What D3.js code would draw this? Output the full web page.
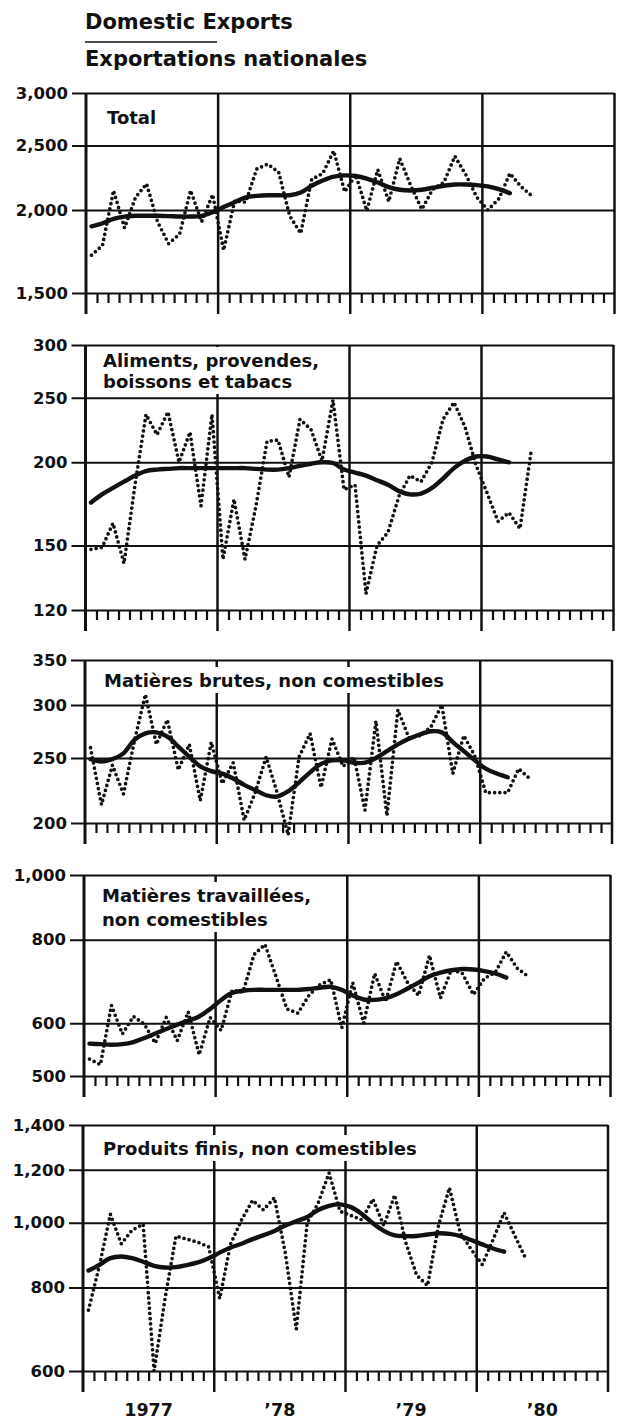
<!DOCTYPE html>
<html>
<head>
<meta charset="utf-8">
<script src="https://cdnjs.cloudflare.com/ajax/libs/d3/7.8.5/d3.min.js"></script>
<style>
    body { margin: 0; background: #fff; }
    svg text { font-family: "DejaVu Sans", sans-serif; font-weight: bold; fill: #111; }
</style>
</head>
<body>
<div id="chart-area"></div>
<script>
// Domestic Exports / Exportations nationales, monthly 1977-1980 (log scales)

const YEARS = ["1977", "’78", "’79", "’80"];
const MONTHS = ["J", "F", "M", "A", "M", "J", "J", "A", "S", "O", "N", "D"];

const TOTAL = [1710, 1770, 2140, 1880, 2090, 2190, 1920, 1780, 1840, 2140, 1920, 2110,
    1740, 2065, 2055, 2305, 2345, 2280, 1960, 1845, 2225, 2270, 2455, 2130,
    2260, 1995, 2300, 2060, 2390, 2175, 2005, 2150, 2200, 2410, 2260, 2090,
    2000, 2080, 2270, 2170, 2100];
const TOTAL_TREND = [1890, 1910, 1940, 1955, 1960, 1960, 1960, 1958, 1955, 1955, 1960, 1985,
    2020, 2055, 2090, 2100, 2105, 2105, 2105, 2125, 2175, 2215, 2245, 2255,
    2250, 2230, 2200, 2165, 2145, 2140, 2145, 2160, 2175, 2185, 2185, 2180,
    2170, 2150, 2120];
const TOTAL_TICKS = [1500, 2000, 2500, 3000];

const FOOD = [148, 149, 162, 141, 185, 236, 220, 238, 200, 222, 172, 236,
    143, 176, 143, 172, 215, 216, 190, 232, 224, 201, 248, 182,
    185, 127, 150, 157, 178, 191, 187, 200, 232, 246, 226, 198,
    180, 163, 168, 159, 207];
const FOOD_TREND = [174, 179, 183, 187, 191, 194, 195, 195.5, 196, 196, 196, 196,
    196, 196, 196, 195.5, 195, 195, 196, 197.5, 199, 200, 199.5, 195,
    193, 191, 188, 185, 181, 179, 179.5, 183, 189, 196, 201, 204,
    204, 202, 200];
const FOOD_TICKS = [120, 150, 200, 250, 300];

const CRUDE = [259, 213, 244, 221, 265, 311, 262, 285, 240, 262, 216, 264,
    229, 246, 202, 222, 251, 222, 192, 251, 272, 226, 267, 243,
    251, 209, 284, 205, 295, 268, 270, 278, 300, 237, 270, 252,
    222, 222, 222, 241, 233];
const CRUDE_TREND = [249, 247, 249, 254, 266, 272, 273, 269, 260, 251, 243, 239,
    237, 233, 228, 224, 220, 219, 223, 230, 238, 245, 248, 248,
    246, 246, 250, 256, 262, 267, 271, 274, 273, 264, 256, 248,
    241, 237, 234];
const CRUDE_TICKS = [200, 250, 300, 350];

const FABRICATED = [530, 520, 638, 578, 614, 598, 560, 612, 565, 624, 538, 612,
    585, 672, 668, 760, 787, 705, 630, 621, 660, 685, 697, 590,
    690, 600, 712, 646, 742, 690, 660, 758, 654, 722, 712, 662,
    700, 715, 767, 725, 705];
const FABRICATED_TREND = [559, 558, 557, 558, 562, 570, 579, 588, 597, 605, 614, 630,
    650, 666, 671, 673, 673, 673, 673, 673, 675, 678, 680, 673,
    660, 651, 650, 654, 663, 676, 690, 705, 714, 720, 723, 722,
    718, 712, 702];
const FABRICATED_TICKS = [500, 600, 800, 1000];

const END_PRODUCTS = [740, 862, 1030, 930, 975, 995, 600, 770, 955, 945, 935, 920,
    770, 930, 1010, 1080, 1045, 1090, 900, 693, 1000, 1070, 1187, 1040,
    1025, 1010, 1085, 990, 1100, 935, 835, 805, 990, 1128, 965, 912,
    866, 944, 1035, 955, 882];
const END_PRODUCTS_TREND = [848, 865, 885, 890, 885, 874, 862, 857, 858, 864, 872, 885,
    902, 918, 930, 945, 958, 972, 990, 1005, 1020, 1045, 1060, 1065,
    1055, 1030, 998, 972, 957, 955, 955, 960, 964, 962, 955, 942,
    928, 915, 905];
const END_PRODUCTS_TICKS = [600, 800, 1000, 1200, 1400];

// month categories, 4 years x 12
const CATEGORIES = YEARS.flatMap(yr => MONTHS.map(m => `${m} ${yr}`));

const PANELS = [
    { label: ["Total"], values: TOTAL, trend: TOTAL_TREND, ticks: TOTAL_TICKS },
    { label: ["Aliments, provendes,", "boissons et tabacs"], values: FOOD, trend: FOOD_TREND, ticks: FOOD_TICKS },
    { label: ["Matières brutes, non comestibles"], values: CRUDE, trend: CRUDE_TREND, ticks: CRUDE_TICKS },
    { label: ["Matières travaillées,", "non comestibles"], values: FABRICATED, trend: FABRICATED_TREND, ticks: FABRICATED_TICKS },
    { label: ["Produits finis, non comestibles"], values: END_PRODUCTS, trend: END_PRODUCTS_TREND, ticks: END_PRODUCTS_TICKS }
];

// page layout of each panel (pixels)
const LAYOUT = [
    { top: 93, bottom: 293, left: 86, right: 614.5, labelX: 107, labelY: [124] },
    { top: 345, bottom: 610, left: 85.5, right: 613.5, labelX: 103, labelY: [367, 388] },
    { top: 660, bottom: 823, left: 85, right: 612, labelX: 104, labelY: [687] },
    { top: 875, bottom: 1076, left: 84, right: 610.5, labelX: 102, labelY: [902, 926] },
    { top: 1125, bottom: 1371, left: 83, right: 608, labelX: 103, labelY: [1155] }
];

const INK = "#111";

const svg = d3.select("#chart-area").append("svg")
    .attr("width", 622)
    .attr("height", 1421);

svg.append("text")
    .attr("x", 85)
    .attr("y", 29)
    .attr("font-size", 21)
    .text("Domestic Exports");

svg.append("line")
    .attr("x1", 85).attr("x2", 217)
    .attr("y1", 42).attr("y2", 42)
    .attr("stroke", INK)
    .attr("stroke-width", 1.5);

svg.append("text")
    .attr("x", 85)
    .attr("y", 66)
    .attr("font-size", 21)
    .text("Exportations nationales");

PANELS.forEach((p, n) => {
    const L = LAYOUT[n];
    const g = svg.append("g");

    const x = d3.scaleLinear()
        .domain([0, CATEGORIES.length])
        .range([L.left, L.right]);

    const y = d3.scaleLog()
        .domain([p.ticks[0], p.ticks[p.ticks.length - 1]])
        .range([L.bottom, L.top]);

    // horizontal grid + value labels
    const yAxisCall = d3.axisLeft(y)
        .tickValues(p.ticks)
        .tickFormat(d3.format(","))
        .tickSize(-(L.right - L.left))
        .tickPadding(18);

    g.append("g")
        .attr("class", "y axis")
        .attr("transform", `translate(${L.left}, 0)`)
        .call(yAxisCall)
        .attr("font-size", 16.5)
        .call(a => a.select(".domain").remove())
        .call(a => a.selectAll(".tick line")
            .attr("x1", -14)
            .attr("stroke", INK)
            .attr("stroke-width", 2));

    // monthly ticks under the panel
    const xAxisCall = d3.axisBottom(x)
        .tickValues(d3.range(1, CATEGORIES.length).filter(m => m % 12 !== 0))
        .tickSize(10)
        .tickFormat("");

    g.append("g")
        .attr("class", "x axis")
        .attr("transform", `translate(0, ${L.bottom})`)
        .call(xAxisCall)
        .call(a => a.select(".domain").remove())
        .call(a => a.selectAll(".tick line")
            .attr("stroke", INK)
            .attr("stroke-width", 2.2));

    // year separators and frame sides
    g.selectAll(".year-line")
        .data(d3.range(0, YEARS.length + 1))
        .enter().append("line")
        .attr("class", "year-line")
        .attr("x1", d => x(d * 12))
        .attr("x2", d => x(d * 12))
        .attr("y1", L.top)
        .attr("y2", L.bottom + 21)
        .attr("stroke", INK)
        .attr("stroke-width", (d, i) => i === 0 ? 3 : 2.5);

    // panel label on white
    const lab = g.append("g");
    const bg = lab.append("rect").attr("fill", "#fff");
    p.label.forEach((t, i) => {
        lab.append("text")
            .attr("x", L.labelX)
            .attr("y", L.labelY[i])
            .attr("font-size", 18)
            .text(t);
    });
    const bb = lab.node().getBBox();
    bg.attr("x", bb.x - 4)
        .attr("y", Math.max(bb.y - 3, L.top + 2))
        .attr("width", bb.width + 8)
        .attr("height", bb.height + 5);

    // monthly values (dotted)
    const line = d3.line()
        .x((d, i) => x(i + 0.5))
        .y(d => y(d));

    g.append("path")
        .datum(p.values)
        .attr("d", line)
        .attr("fill", "none")
        .attr("stroke", INK)
        .attr("stroke-width", 3.7)
        .attr("stroke-linecap", "round")
        .attr("stroke-dasharray", "0 5.2");

    // trend (solid)
    g.append("path")
        .datum(p.trend)
        .attr("d", line.curve(d3.curveCatmullRom))
        .attr("fill", "none")
        .attr("stroke", INK)
        .attr("stroke-width", 4.4)
        .attr("stroke-linecap", "round");

    if (n === PANELS.length - 1) {
        g.selectAll(".year-label")
            .data(YEARS)
            .enter().append("text")
            .attr("class", "year-label")
            .attr("x", (d, i) => x(i * 12 + 6))
            .attr("y", 1416)
            .attr("text-anchor", "middle")
            .attr("font-size", 17.5)
            .text(d => d);
    }
});
</script>
</body>
</html>
